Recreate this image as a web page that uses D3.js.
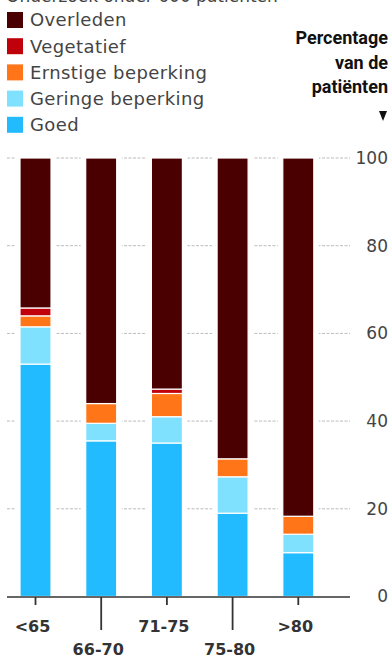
<!DOCTYPE html>
<html><head><meta charset="utf-8">
<script src="https://cdn.jsdelivr.net/npm/d3@7"></script>
<style>body{margin:0;background:#fff}svg{display:block}</style>
</head><body>
<script>
const categories = ["<65","66-70","71-75","75-80",">80"];
const seriesNames = ["Goed","Geringe beperking","Ernstige beperking","Vegetatief","Overleden"];
const goed      = [53, 35.5, 35, 19, 10];
const geringe   = [8.5, 4, 6, 8.3, 4.2];
const ernstige  = [2.5, 4.5, 5.3, 4.1, 4.1];
const vegetatief= [1.8, 0, 1, 0, 0];
const overleden = [34.2, 56, 52.7, 68.6, 81.7];
const yTicks = [0,20,40,60,80,100];
const colors = ["#22bbff","#80e1ff","#ff7518","#c0000b","#4a0000"];
const legendOrder = [4,3,2,1,0];

const W=392,H=660;
const svg=d3.select("body").append("svg").attr("width",W).attr("height",H);
const font="'DejaVu Sans', sans-serif";

// cut-off title
svg.append("text").attr("x",6).attr("y",2).attr("font-family",font).attr("font-size",17)
  .attr("fill","#444").text("Onderzoek onder 600 patiënten");

// legend
const leg=svg.append("g");
legendOrder.forEach((si,i)=>{
  const g=leg.append("g").attr("transform",`translate(7,${20+i*26.2})`);
  g.append("rect").attr("x",0).attr("y",-8).attr("width",16).attr("height",16).attr("fill",colors[si]);
  g.append("text").attr("x",23).attr("y",0).attr("dy","0.35em").attr("font-family",font)
    .attr("font-size",18).attr("letter-spacing",0.4).attr("fill","#444").text(seriesNames[si]);
});

// y-axis title
const ttl=["Percentage","van de","patiënten"];
ttl.forEach((t,i)=>svg.append("text").attr("x",388).attr("y",44+i*24.6).attr("text-anchor","end")
  .attr("font-family","'Liberation Sans Narrow','Roboto',sans-serif").attr("font-weight","bold")
  .attr("font-size",18).attr("fill","#111").text(t));
svg.append("path").attr("d","M379,111 L387,111 L383,121 Z").attr("fill","#111");

const y=d3.scaleLinear().domain([0,100]).range([596.5,158]);
const x=d3.scaleBand().domain(categories).range([20,313.8]).paddingInner(0.528).paddingOuter(0);

// gridlines
svg.append("g").selectAll("line").data(yTicks.filter(d=>d>0)).join("line")
  .attr("x1",7).attr("x2",350).attr("y1",d=>y(d)).attr("y2",d=>y(d))
  .attr("stroke","#bbb").attr("stroke-width",1).attr("stroke-dasharray","3,1.5");

// y labels
svg.append("g").selectAll("text").data(yTicks).join("text")
  .attr("x",388).attr("y",d=>y(d)).attr("dy","0.35em").attr("text-anchor","end")
  .attr("font-family",font).attr("font-size",17).attr("fill","#444").text(d=>d);

// stacked data
const table=categories.map((c,i)=>({cat:c,s0:goed[i],s1:geringe[i],s2:ernstige[i],s3:vegetatief[i],s4:overleden[i]}));
const stack=d3.stack().keys(["s0","s1","s2","s3","s4"])(table);

// white background behind bars to break gridlines
svg.append("g").selectAll("rect").data(categories).join("rect")
  .attr("x",d=>x(d)-5).attr("width",x.bandwidth()+10).attr("y",y(100)-2).attr("height",y(0)-y(100)+2)
  .attr("fill","#fff");

const bars=svg.append("g");
stack.forEach((layer,si)=>{
  bars.selectAll(null).data(layer.filter(d=>d[1]-d[0]>0)).join("rect")
    .attr("x",d=>x(d.data.cat)).attr("width",x.bandwidth())
    .attr("y",d=>y(d[1])).attr("height",d=>y(d[0])-y(d[1]))
    .attr("fill",colors[si]).attr("stroke","#fff").attr("stroke-width",1.2);
});

// x axis
svg.append("line").attr("x1",7).attr("x2",350).attr("y1",597).attr("y2",597).attr("stroke","#333").attr("stroke-width",1.5);
categories.forEach((c,i)=>{
  const cx=x(c)+x.bandwidth()/2;
  const long=i%2===1;
  svg.append("line").attr("x1",cx).attr("x2",cx).attr("y1",597).attr("y2",long?630:605)
    .attr("stroke","#333").attr("stroke-width",1.8);
  svg.append("text").attr("x",cx-3).attr("y",long?649:626).attr("dy","0.35em").attr("text-anchor","middle")
    .attr("font-family",font).attr("font-weight","bold").attr("font-size",16).attr("fill","#333").text(c);
});
</script>
</body></html>
